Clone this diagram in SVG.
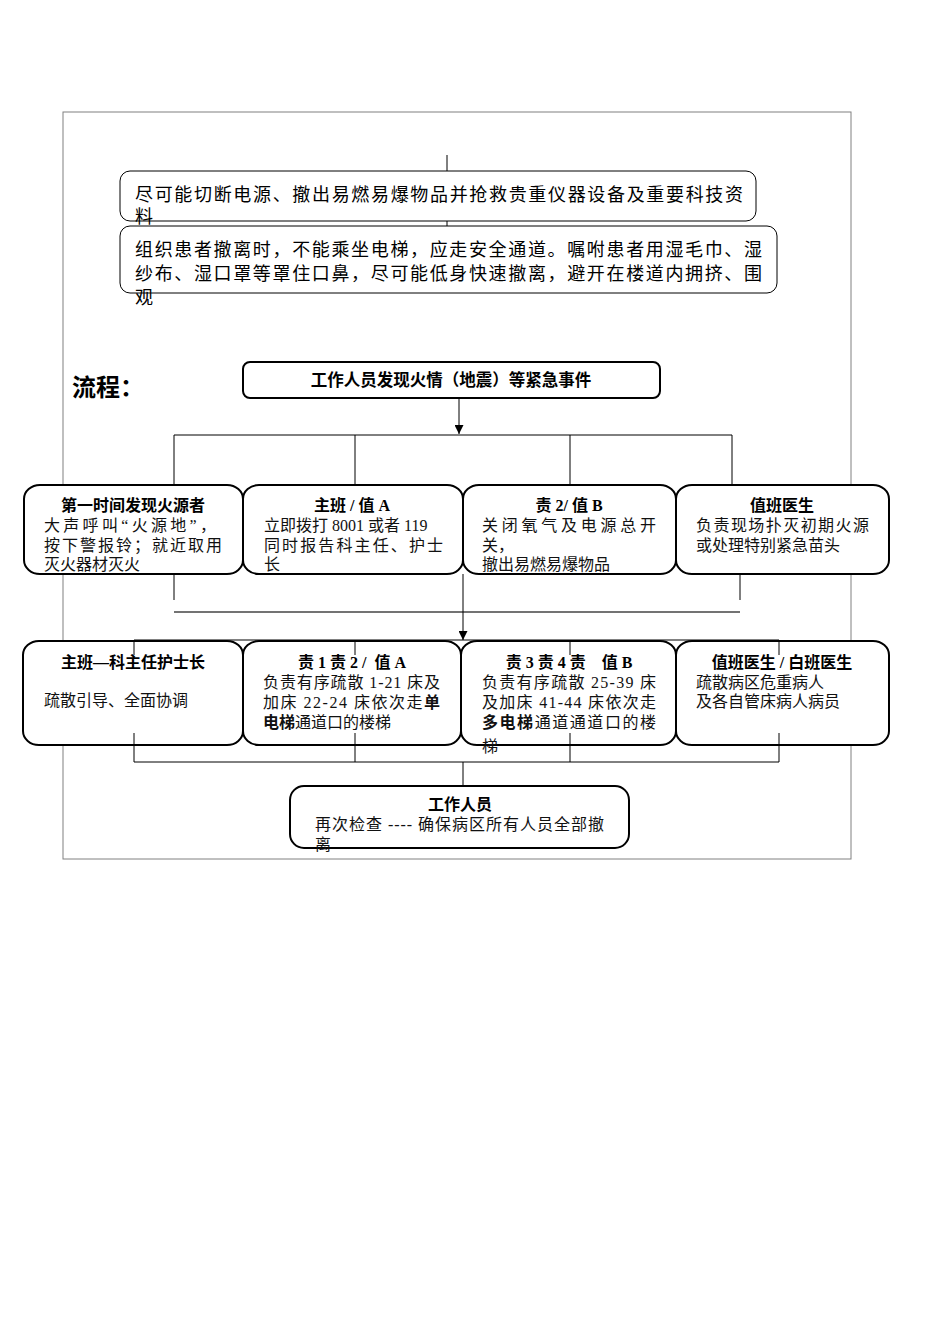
<svg xmlns="http://www.w3.org/2000/svg" width="950" height="1344" viewBox="0 0 950 1344">
<defs>
<marker id="arr" viewBox="0 0 10 10" refX="10" refY="5" markerWidth="10" markerHeight="9" markerUnits="userSpaceOnUse" orient="auto"><path d="M0,0 L10,5 L0,10 z" fill="#000"/></marker>
<style>
.frame{fill:none;stroke:#808080;stroke-width:1}
.tbox{fill:#fff;stroke:#000;stroke-width:1}
.box{fill:#fff;stroke:#000;stroke-width:2}
.ln{fill:none;stroke:#000;stroke-width:1}
.gl{fill:none;stroke:#444;stroke-width:1.5}
.sans{font-family:"Liberation Sans","Noto Sans CJK SC",sans-serif;fill:#000}
.top{font-size:18px}
.ser{font-family:"Liberation Serif","Noto Sans CJK SC",serif;font-size:16px;fill:#111}
.ttl{font-family:"Liberation Serif","Noto Sans CJK SC",serif;font-size:16px;font-weight:bold;fill:#000;text-anchor:middle;white-space:pre}
.b{font-weight:bold}
</style>
</defs>
<rect class="frame" x="63" y="112" width="788" height="747"/>

<g id="note1">
<rect class="tbox" x="120" y="171" width="636" height="50" rx="10"/>
<text class="sans top" x="135" y="201" textLength="608" lengthAdjust="spacing">尽可能切断电源、撤出易燃易爆物品并抢救贵重仪器设备及重要科技资</text>
<text class="sans top" x="135" y="223">料</text>
</g>
<g id="note2">
<rect class="tbox" x="120" y="226" width="657" height="67" rx="10"/>
<text class="sans top" x="135" y="256" textLength="627" lengthAdjust="spacing">组织患者撤离时，不能乘坐电梯，应走安全通道。嘱咐患者用湿毛巾、湿</text>
<text class="sans top" x="135" y="280" textLength="627" lengthAdjust="spacing">纱布、湿口罩等罩住口鼻，尽可能低身快速撤离，避开在楼道内拥挤、围</text>
<text class="sans top" x="135" y="304">观</text>
</g>

<text class="sans" x="72" y="396" font-size="24" font-weight="bold">流程：</text>

<g id="start">
<rect class="box" x="243" y="362" width="417" height="36" rx="7"/>
<text class="sans" x="451" y="386" font-size="16.5" font-weight="bold" text-anchor="middle">工作人员发现火情（地震）等紧急事件</text>
</g>

<g id="r1a">
<rect class="box" x="24" y="485" width="219" height="89" rx="16" ry="14"/>
<text class="ttl" x="133" y="511">第一时间发现火源者</text>
<text class="ser" x="44" y="531" textLength="172" lengthAdjust="spacing">大声呼叫“火源地”，</text>
<text class="ser" x="44" y="551" textLength="178" lengthAdjust="spacing">按下警报铃；就近取用</text>
<text class="ser" x="44" y="570">灭火器材灭火</text>
</g>
<g id="r1b">
<rect class="box" x="243" y="485" width="220" height="89" rx="16" ry="14"/>
<text class="ttl" x="352" y="511">主班 / 值 A</text>
<text class="ser" x="264" y="531">立即拨打 8001 或者 119</text>
<text class="ser" x="264" y="551" textLength="179" lengthAdjust="spacing">同时报告科主任、护士</text>
<text class="ser" x="264" y="570">长</text>
</g>
<g id="r1c">
<rect class="box" x="463" y="485" width="213" height="89" rx="16" ry="14"/>
<text class="ttl" x="569" y="511">责 2/ 值 B</text>
<text class="ser" x="482" y="531" textLength="174" lengthAdjust="spacing">关闭氧气及电源总开</text>
<text class="ser" x="482" y="551">关，</text>
<text class="ser" x="482" y="570">撤出易燃易爆物品</text>
</g>
<g id="r1d">
<rect class="box" x="676" y="485" width="213" height="89" rx="16" ry="14"/>
<text class="ttl" x="782" y="511">值班医生</text>
<text class="ser" x="696" y="531" textLength="173" lengthAdjust="spacing">负责现场扑灭初期火源</text>
<text class="ser" x="696" y="551">或处理特别紧急苗头</text>
</g>

<g id="r2a">
<rect class="box" x="23" y="641" width="220" height="104" rx="16" ry="14"/>
<text class="ttl" x="133" y="668">主班—科主任护士长</text>
<text class="ser" x="44" y="706">疏散引导、全面协调</text>
</g>
<g id="r2b">
<rect class="box" x="243" y="641" width="218" height="104" rx="16" ry="14"/>
<text class="ttl" x="352" y="668">责 1 责 2 /  值 A</text>
<text class="ser" x="263" y="688" textLength="177" lengthAdjust="spacing">负责有序疏散 1-21 床及</text>
<text class="ser" x="263" y="708" textLength="177" lengthAdjust="spacing">加床 22-24 床依次走<tspan class="b">单</tspan></text>
<text class="ser" x="263" y="728"><tspan class="b">电梯</tspan>通道口的楼梯</text>
</g>
<g id="r2c">
<rect class="box" x="461" y="641" width="215" height="104" rx="16" ry="14"/>
<text class="ttl" x="569" y="668">责 3 责 4 责    值 B</text>
<text class="ser" x="482" y="688" textLength="174" lengthAdjust="spacing">负责有序疏散 25-39 床</text>
<text class="ser" x="482" y="708" textLength="174" lengthAdjust="spacing">及加床 41-44 床依次走</text>
<text class="ser" x="482" y="728" textLength="174" lengthAdjust="spacing"><tspan class="b">多电梯</tspan>通道通道口的楼</text>
<text class="ser" x="482" y="752">梯</text>
</g>
<g id="r2d">
<rect class="box" x="676" y="641" width="213" height="104" rx="16" ry="14"/>
<text class="ttl" x="782" y="668">值班医生 / 白班医生</text>
<text class="ser" x="696" y="688">疏散病区危重病人</text>
<text class="ser" x="696" y="707">及各自管床病人病员</text>
</g>

<g id="final">
<rect class="box" x="290" y="786" width="339" height="62" rx="14"/>
<text class="ttl" x="460" y="810">工作人员</text>
<text class="ser" x="315" y="830" textLength="289" lengthAdjust="spacing">再次检查 ---- 确保病区所有人员全部撤</text>
<text class="ser" x="315" y="850">离</text>
</g>

<g id="connectors">
<path class="ln" d="M447,155 V171 M447,221 V226"/>
<path class="ln" d="M459,398 V434" marker-end="url(#arr)"/>
<path class="ln" d="M174,435 H732 M174,435 V485 M355,435 V485 M570,435 V485 M732,435 V485"/>
<path class="ln" d="M174,574 V600 M740,574 V600"/>
<path class="gl" d="M174,612 H740"/>
<path class="ln" d="M463,574 V640" marker-end="url(#arr)"/>
<path class="ln" d="M134,640 H779 M134,640 V655 M355,640 V655 M570,640 V655 M779,640 V655"/>
<path class="ln" d="M134,733 V762 M355,733 V762 M570,733 V762 M779,733 V762 M134,762 H779 M463,762 V786"/>
</g>
</svg>
